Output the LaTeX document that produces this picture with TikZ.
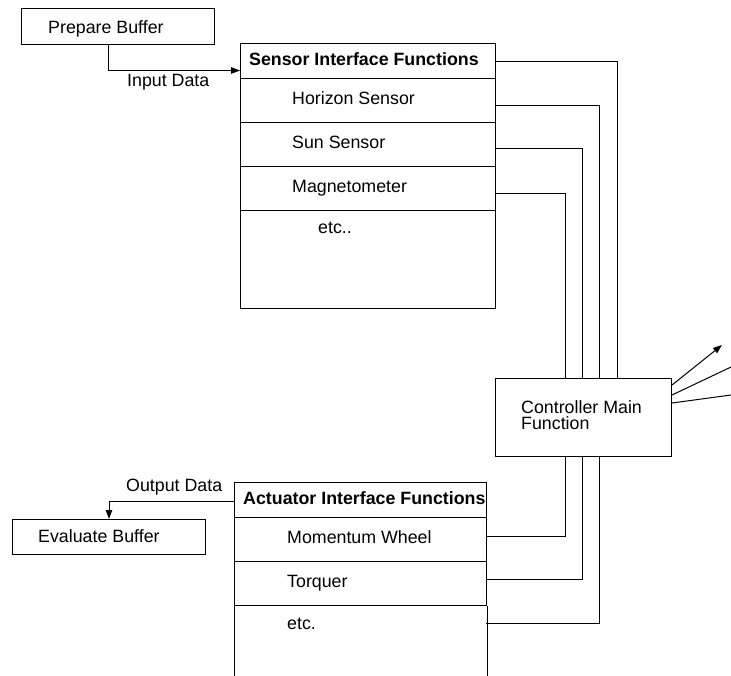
\documentclass[tikz,border=0pt]{standalone}
\usepackage{fontspec}
\setmainfont{Liberation Sans}
\usetikzlibrary{arrows.meta,calc}
\begin{document}
\begin{tikzpicture}[x=1pt,y=-1pt,
  font=\fontsize{17.8}{16}\selectfont,
  box/.style={draw, line width=1pt, rectangle, anchor=north west, inner sep=0pt},
  conn/.style={line width=1pt},
  arr/.style={conn, -{Triangle[length=9pt,width=6.5pt]}},
  txt/.style={inner sep=0pt, anchor=base west},
  ttl/.style={txt, font=\fontsize{17.8}{16}\selectfont\bfseries}]
\useasboundingbox (0,0) rectangle (731,675);

% Prepare Buffer
\node[box, minimum width=193pt, minimum height=36pt] (prep) at (21,8) {};
\node[txt] (prepT) at (48,33) {Prepare Buffer};

% Sensor Interface Functions
\node[box, minimum width=255pt, minimum height=35pt] (stitle) at (240,43) {};
\node[box, minimum width=255pt, minimum height=44pt] (shor) at (240,78) {};
\node[box, minimum width=255pt, minimum height=44pt] (ssun) at (240,122) {};
\node[box, minimum width=255pt, minimum height=44pt] (smag) at (240,166) {};
\node[box, minimum width=255pt, minimum height=98pt] (setc) at (240,210) {};
\node[ttl] (stitleT) at (249,65) {Sensor Interface Functions};
\node[txt] (shorT) at (292,104) {Horizon Sensor};
\node[txt] (ssunT) at (292,148) {Sun Sensor};
\node[txt] (smagT) at (292,192) {Magnetometer};
\node[txt] (setcT) at (318,233) {etc..};

% Controller
\node[box, minimum width=176pt, minimum height=78pt] (ctrl) at (495,378) {};
\node[inner sep=0pt, anchor=west, align=left] (ctrlT) at (521,415) {Controller Main\\Function};

% Actuator Interface Functions
\node[box, minimum width=252pt, minimum height=35pt] (atitle) at (234,482) {};
\node[box, minimum width=252pt, minimum height=44pt] (amw) at (234,517) {};
\node[box, minimum width=252pt, minimum height=44pt] (atq) at (234,561) {};
\draw[conn] (atq.south west) -- ++(0,72);
\draw[conn] (atq.south east) -- ++(0,72);
\coordinate (aetcR) at (486,623);
\node[ttl] (atitleT) at (243,504) {Actuator Interface Functions};
\node[txt] (amwT) at (287,543) {Momentum Wheel};
\node[txt] (atqT) at (287,587) {Torquer};
\node[txt] (aetcT) at (287,629) {etc.};

% Evaluate Buffer
\node[box, minimum width=193pt, minimum height=35pt] (evalb) at (12,519) {};
\node[txt] (evalbT) at (38,542) {Evaluate Buffer};

% Input / Output data
\draw[arr] ([xshift=-9.5pt]prep.south) |- ([yshift=-9.5pt]stitle.west);
\node[txt] (inlbl) at (127,86) {Input Data};
\draw[arr] ([yshift=-1.5pt]atitle.west) -| (evalb.north);
\node[txt] (outlbl) at (126,491) {Output Data};

% Sensor -> controller
\draw[conn] (stitle.east) -| ($(ctrl.north west)+(122,0)$);
\draw[conn] ([yshift=-5pt]shor.east) -| ($(ctrl.north west)+(104,0)$);
\draw[conn] ([yshift=-4pt]ssun.east) -| ($(ctrl.north west)+(87,0)$);
\draw[conn] ([yshift=-5pt]smag.east) -| ($(ctrl.north west)+(70,0)$);

% Controller -> actuator
\draw[conn] ([yshift=3pt]amw.east) -| ($(ctrl.south west)+(70,0)$);
\draw[conn] ([yshift=4pt]atq.east) -| ($(ctrl.south west)+(87,0)$);
\draw[conn] (aetcR) -| ($(ctrl.south west)+(104,0)$);

% Outgoing lines on the right
\coordinate (o1) at (722,345);
\coordinate (o2) at (731,367);
\coordinate (o3) at (731,395);
\draw[arr] ($(ctrl.north east)+(0,7)$) -- (o1);
\draw[conn] ($(ctrl.north east)+(0,17)$) -- (o2);
\draw[conn] ($(ctrl.north east)+(0,25)$) -- (o3);
\end{tikzpicture}
\end{document}
